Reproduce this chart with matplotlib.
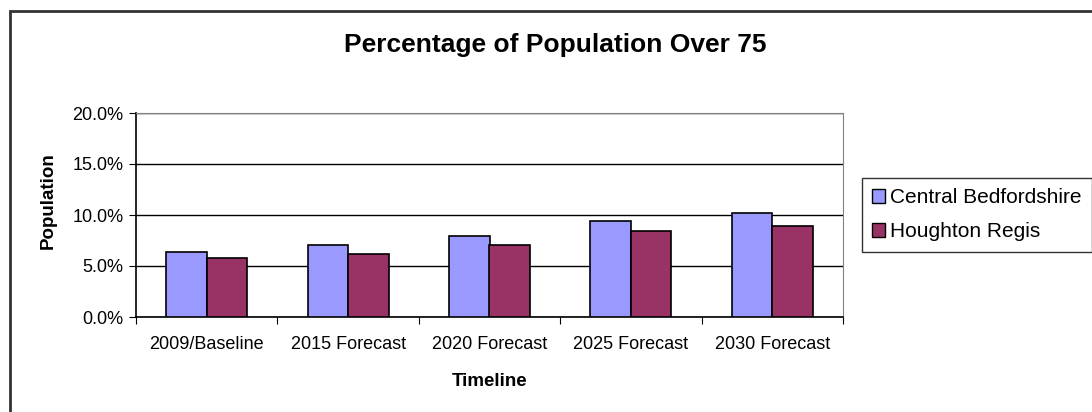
import matplotlib
matplotlib.use("Agg")
import matplotlib.pyplot as plt
from matplotlib.patches import Rectangle, Patch
from matplotlib.ticker import FuncFormatter
import numpy as np

plt.rcParams['font.family'] = ['Liberation Sans', 'DejaVu Sans']

categories = ["2009/Baseline", "2015 Forecast", "2020 Forecast", "2025 Forecast", "2030 Forecast"]
central_beds = [6.4, 7.1, 7.9, 9.4, 10.2]
houghton_regis = [5.8, 6.2, 7.1, 8.4, 8.9]
series_names = ["Central Bedfordshire", "Houghton Regis"]
colors = ["#9999FF", "#993366"]

W, H = 1092, 412
fig = plt.figure(figsize=(W / 100, H / 100), dpi=100)

# outer chart border (only left/top are visible in the crop)
fig.patches.append(Rectangle((10 / W, -0.1), 1.2, 1 - 11 / H + 0.1, transform=fig.transFigure,
                             fill=False, edgecolor="#333333", linewidth=2))

ax = fig.add_axes([136 / W, (H - 317) / H, 707 / W, 204 / H])

x = np.arange(len(categories))
bw = 0.286
ax.bar(x - bw / 2, central_beds, bw, color=colors[0], edgecolor="black", linewidth=1.2, zorder=3)
ax.bar(x + bw / 2, houghton_regis, bw, color=colors[1], edgecolor="black", linewidth=1.2, zorder=3)

ax.set_xlim(-0.5, len(categories) - 0.5)
ax.set_ylim(0, 20)
ax.set_yticks([0, 5, 10, 15, 20])
ax.yaxis.set_major_formatter(FuncFormatter(lambda v, p: "%.1f%%" % v))
ax.yaxis.grid(True, color="black", linewidth=1)
ax.set_axisbelow(True)

ax.set_xticks(np.arange(-0.5, len(categories), 1.0))
ax.set_xticklabels([])
ax.set_xticks(x, minor=True)
ax.set_xticklabels(categories, minor=True)
ax.tick_params(axis="x", which="minor", length=0, pad=13.5, labelsize=13)
ax.tick_params(axis="x", which="major", direction="out", length=5, color="black")
ax.tick_params(axis="y", direction="out", length=5, labelsize=13, pad=4)

for s in ["top", "right"]:
    ax.spines[s].set_color("#808080")
for s in ["left", "bottom"]:
    ax.spines[s].set_color("black")
    ax.spines[s].set_linewidth(1.2)

fig.text(490 / W, 1 - 381 / H, "Timeline", fontsize=13.5, fontweight="bold",
         ha="center", va="center")
fig.text(48 / W, 1 - 201 / H, "Population", fontsize=13.5, fontweight="bold",
         ha="center", va="center", rotation=90)

fig.text(555 / W, 1 - 45 / H, "Percentage of Population Over 75", fontsize=19,
         fontweight="bold", ha="center", va="center")

handles = [Patch(facecolor=c, edgecolor="black", linewidth=1) for c in colors]
leg = fig.legend(handles, series_names, loc="upper left", bbox_to_anchor=(862 / W, 1 - 178 / H),
                 fontsize=15, frameon=True, fancybox=False, edgecolor="black",
                 handlelength=0.6, handleheight=0.6, handletextpad=0.25,
                 borderpad=0.5, labelspacing=0.72, borderaxespad=0)
leg.get_frame().set_linewidth(1)

fig.savefig("out.png", dpi=100)
